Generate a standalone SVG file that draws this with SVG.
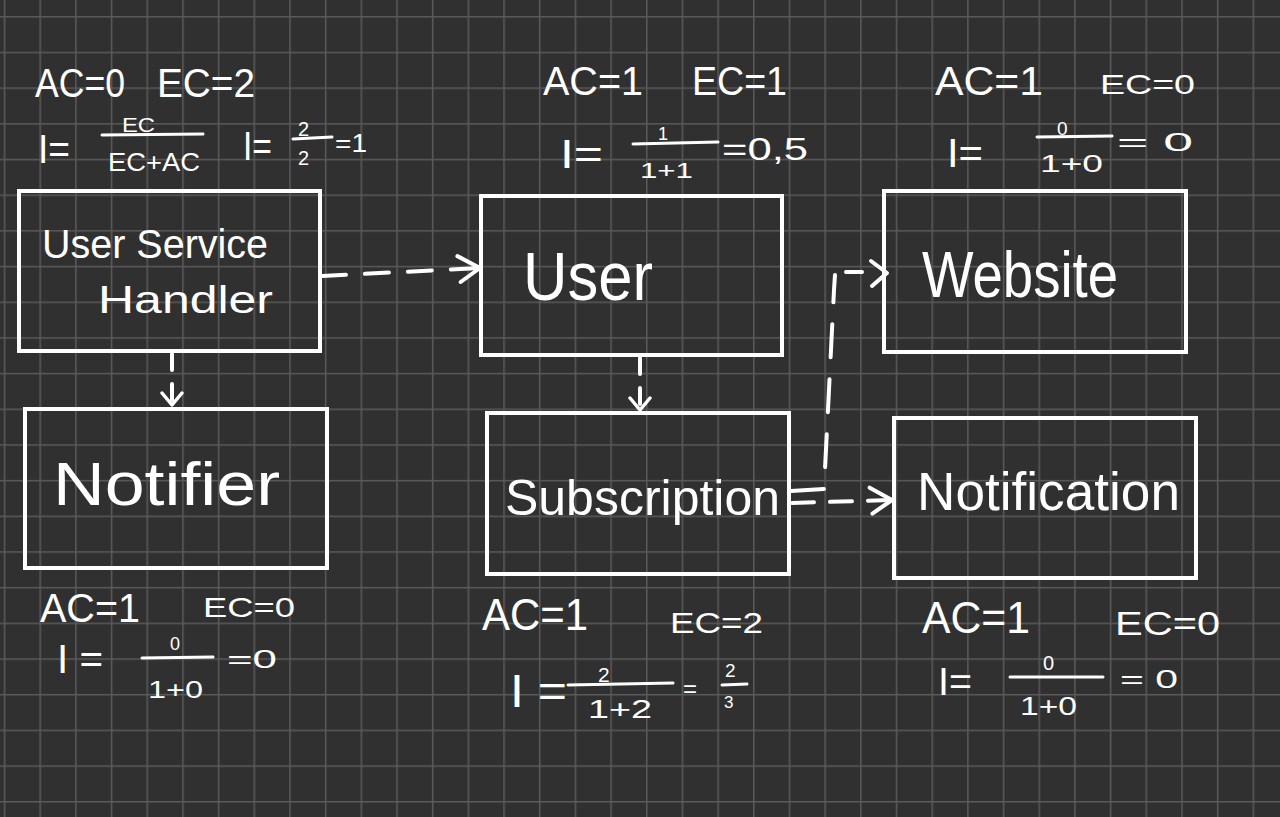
<svg xmlns="http://www.w3.org/2000/svg" width="1280" height="817" viewBox="0 0 1280 817">
  <defs>
    <pattern id="grid" patternUnits="userSpaceOnUse" x="3.75" y="16.05" width="35.68" height="35.68">
      <path d="M0.75 0 V35.68 M0 0.75 H35.68" stroke="#5a5a5a" stroke-width="1.5" fill="none"/>
    </pattern>
    <marker id="arr" markerUnits="userSpaceOnUse" markerWidth="32" markerHeight="32" viewBox="0 0 32 32" refX="28" refY="16" orient="auto">
      <path d="M6 3 L28 16 L8 29" fill="none" stroke="#ffffff" stroke-width="4" stroke-linecap="round" stroke-linejoin="round"/>
    </marker>
    <marker id="arrS" markerUnits="userSpaceOnUse" markerWidth="24" markerHeight="24" viewBox="0 0 24 24" refX="20" refY="12" orient="auto">
      <path d="M8 2 L20 12 L8 22" fill="none" stroke="#ffffff" stroke-width="3.5" stroke-linecap="round" stroke-linejoin="round"/>
    </marker>
  </defs>
  <style>
    .box { fill: none; stroke: #ffffff; stroke-width: 4; }
    .lbl { font-family: "Liberation Sans", Arial, sans-serif; fill: #ffffff; }
    .m { font-family: "Liberation Sans", Arial, sans-serif; fill: #ffffff; }
    .frac { stroke: #ffffff; stroke-width: 3; stroke-linecap: round; }
    .edge { fill: none; stroke: #ffffff; stroke-width: 4; stroke-linecap: round; stroke-linejoin: round; }
  </style>
  <rect x="0" y="0" width="1280" height="817" fill="#303030"/>
  <rect x="0" y="0" width="1280" height="817" fill="url(#grid)"/>

  <g id="connectors">
    <path class="edge" d="M322 276 L480 268" stroke-dasharray="24 19" marker-end="url(#arr)"/>
    <path class="edge" d="M172 354 L172 405" stroke-dasharray="16 14" marker-end="url(#arrS)"/>
    <path class="edge" d="M640 358 L640 410" stroke-dasharray="16 14" marker-end="url(#arrS)"/>
    <path class="edge" d="M792 503 L892 500" stroke-dasharray="22 16" marker-end="url(#arr)"/>
    <path class="edge" d="M791 491 L824 489 L834 290 L835 275 M846 272 L862 272" stroke-dasharray="33 22"/>
    <path class="edge" d="M871 261 L887 273 L872 286"/>
  </g>

  <g id="user-service-handler">
    <rect class="box" x="19" y="191" width="301" height="160"/>
    <text class="lbl" x="42" y="258" font-size="40" textLength="226" lengthAdjust="spacingAndGlyphs">User Service</text>
    <text class="lbl" x="98" y="313" font-size="38" textLength="175" lengthAdjust="spacingAndGlyphs">Handler</text>
  </g>
  <g id="notifier">
    <rect class="box" x="25" y="409" width="302" height="159"/>
    <text class="lbl" x="53" y="505" font-size="62" textLength="227" lengthAdjust="spacingAndGlyphs">Notifier</text>
  </g>
  <g id="user">
    <rect class="box" x="481" y="196" width="301" height="159"/>
    <text class="lbl" x="523" y="300" font-size="68" textLength="130" lengthAdjust="spacingAndGlyphs">User</text>
  </g>
  <g id="subscription">
    <rect class="box" x="487" y="413" width="302" height="161"/>
    <text class="lbl" x="505" y="515" font-size="50" textLength="275" lengthAdjust="spacingAndGlyphs">Subscription</text>
  </g>
  <g id="website">
    <rect class="box" x="884" y="191" width="302" height="161"/>
    <text class="lbl" x="922" y="297" font-size="64" textLength="196" lengthAdjust="spacingAndGlyphs">Website</text>
  </g>
  <g id="notification">
    <rect class="box" x="894" y="418" width="302" height="160"/>
    <text class="lbl" x="917" y="510" font-size="54" textLength="263" lengthAdjust="spacingAndGlyphs">Notification</text>
  </g>

  <g id="metrics-user-service-handler">
    <text class="m" x="35" y="97" font-size="40" textLength="90" lengthAdjust="spacingAndGlyphs">AC=0</text>
    <text class="m" x="157" y="97" font-size="40" textLength="98" lengthAdjust="spacingAndGlyphs">EC=2</text>
    <text class="m" x="38" y="163" font-size="40" textLength="32" lengthAdjust="spacingAndGlyphs">I=</text>
    <text class="m" x="122" y="132" font-size="20" textLength="33" lengthAdjust="spacingAndGlyphs">EC</text>
    <line class="frac" x1="102" y1="135" x2="203" y2="134"/>
    <text class="m" x="108" y="171" font-size="26" textLength="92" lengthAdjust="spacingAndGlyphs">EC+AC</text>
    <text class="m" x="243" y="160" font-size="40" textLength="29" lengthAdjust="spacingAndGlyphs">I=</text>
    <text class="m" x="298" y="136" font-size="20">2</text>
    <line class="frac" x1="293" y1="139" x2="332" y2="137"/>
    <text class="m" x="298" y="165" font-size="20">2</text>
    <text class="m" x="335" y="152" font-size="26" textLength="32" lengthAdjust="spacingAndGlyphs">=1</text>
  </g>
  <g id="metrics-user">
    <text class="m" x="543" y="95" font-size="40" textLength="100" lengthAdjust="spacingAndGlyphs">AC=1</text>
    <text class="m" x="692" y="95" font-size="40" textLength="95" lengthAdjust="spacingAndGlyphs">EC=1</text>
    <text class="m" x="560" y="168" font-size="40" textLength="43" lengthAdjust="spacingAndGlyphs">I=</text>
    <text class="m" x="658" y="140" font-size="18">1</text>
    <line class="frac" x1="633" y1="144" x2="718" y2="142"/>
    <text class="m" x="640" y="178" font-size="22" textLength="53" lengthAdjust="spacingAndGlyphs">1+1</text>
    <text class="m" x="722" y="160" font-size="32" textLength="86" lengthAdjust="spacingAndGlyphs">=0,5</text>
  </g>
  <g id="metrics-website">
    <text class="m" x="935" y="95" font-size="40" textLength="108" lengthAdjust="spacingAndGlyphs">AC=1</text>
    <text class="m" x="1100" y="94" font-size="28" textLength="95" lengthAdjust="spacingAndGlyphs">EC=0</text>
    <text class="m" x="947" y="167" font-size="40" textLength="36" lengthAdjust="spacingAndGlyphs">I=</text>
    <text class="m" x="1057" y="135" font-size="19">0</text>
    <line class="frac" x1="1037" y1="137" x2="1112" y2="136"/>
    <text class="m" x="1040" y="172" font-size="23" textLength="63" lengthAdjust="spacingAndGlyphs">1+0</text>
    <text class="m" x="1117" y="151" font-size="26" textLength="76" lengthAdjust="spacingAndGlyphs">= 0</text>
  </g>
  <g id="metrics-notifier">
    <text class="m" x="40" y="622" font-size="40" textLength="100" lengthAdjust="spacingAndGlyphs">AC=1</text>
    <text class="m" x="203" y="617" font-size="28" textLength="92" lengthAdjust="spacingAndGlyphs">EC=0</text>
    <text class="m" x="57" y="673" font-size="40" textLength="46" lengthAdjust="spacingAndGlyphs">I =</text>
    <text class="m" x="170" y="650" font-size="18">0</text>
    <line class="frac" x1="142" y1="658" x2="213" y2="657"/>
    <text class="m" x="148" y="698" font-size="24" textLength="55" lengthAdjust="spacingAndGlyphs">1+0</text>
    <text class="m" x="227" y="668" font-size="26" textLength="50" lengthAdjust="spacingAndGlyphs">=0</text>
  </g>
  <g id="metrics-subscription">
    <text class="m" x="482" y="630" font-size="44" textLength="106" lengthAdjust="spacingAndGlyphs">AC=1</text>
    <text class="m" x="670" y="633" font-size="30" textLength="93" lengthAdjust="spacingAndGlyphs">EC=2</text>
    <text class="m" x="510" y="707" font-size="46" textLength="57" lengthAdjust="spacingAndGlyphs">I =</text>
    <text class="m" x="598" y="682" font-size="21">2</text>
    <line class="frac" x1="568" y1="685" x2="673" y2="683"/>
    <text class="m" x="588" y="718" font-size="26" textLength="64" lengthAdjust="spacingAndGlyphs">1+2</text>
    <text class="m" x="683" y="697" font-size="24">=</text>
    <text class="m" x="725" y="677" font-size="19">2</text>
    <line class="frac" x1="722" y1="685" x2="747" y2="684"/>
    <text class="m" x="724" y="708" font-size="17">3</text>
  </g>
  <g id="metrics-notification">
    <text class="m" x="922" y="633" font-size="44" textLength="108" lengthAdjust="spacingAndGlyphs">AC=1</text>
    <text class="m" x="1115" y="635" font-size="34" textLength="105" lengthAdjust="spacingAndGlyphs">EC=0</text>
    <text class="m" x="938" y="695" font-size="38" textLength="34" lengthAdjust="spacingAndGlyphs">I=</text>
    <text class="m" x="1043" y="670" font-size="20">0</text>
    <line class="frac" x1="1010" y1="677" x2="1103" y2="677"/>
    <text class="m" x="1020" y="715" font-size="26" textLength="57" lengthAdjust="spacingAndGlyphs">1+0</text>
    <text class="m" x="1120" y="688" font-size="26" textLength="58" lengthAdjust="spacingAndGlyphs">= 0</text>
  </g>
</svg>
